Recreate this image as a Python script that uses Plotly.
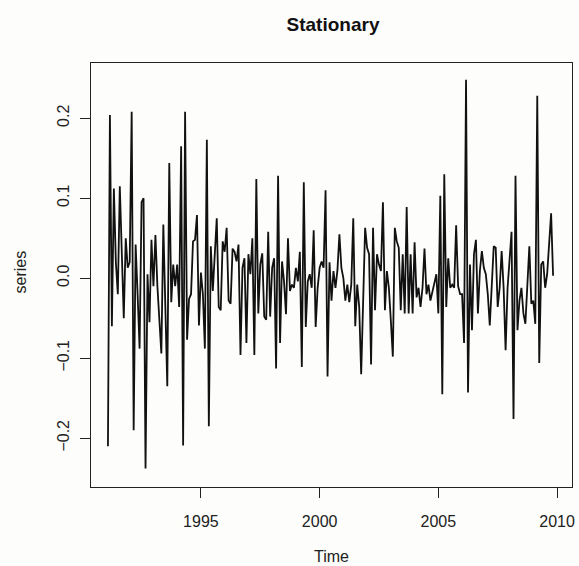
import plotly.graph_objects as go

# monthly series, Feb 1991 onwards
start_year = 1991 + 1 / 12

values_1991_1995 = [
    -0.21, 0.204, -0.06, 0.112, 0.02, -0.02, 0.115, 0.03, -0.05, 0.05,
    0.013, 0.02, 0.208, -0.19, 0.042, -0.02, -0.088, 0.095, 0.1, -0.238,
    0.005, -0.055, 0.048, -0.01, 0.054, -0.01, -0.05, -0.094, 0.067, -0.03,
    -0.135, 0.144, -0.03, 0.017, -0.01, 0.017, -0.036, 0.165, -0.209, 0.208,
    -0.077, -0.026, -0.02, 0.046, 0.048, 0.079, -0.059, 0.007, -0.02, -0.088,
    0.173, -0.185,
]
values_1995_2000 = [
    0.04, -0.016, 0.037, 0.075, -0.036, -0.04, 0.046, 0.033, 0.063, -0.028,
    -0.032, 0.037, 0.033, 0.021, 0.042, -0.096, 0.013, 0.025, -0.081, 0.03,
    0.005, 0.05, -0.096, 0.124, -0.044, 0.017, 0.031, -0.048, -0.052, 0.058,
    -0.048, 0.013, 0.025, -0.113, 0.128, -0.081, 0.021, -0.004, -0.045, 0.05,
    -0.016, -0.008, -0.012, 0.013, -0.004, 0.033, -0.111, 0.12, -0.061, -0.004,
    0.005, -0.012, 0.06, -0.061, -0.012, 0.013, 0.021, 0.013, 0.11, -0.123,
]
values_2000_2005 = [
    0.02, -0.028, 0.009, -0.012, 0.01, 0.055, 0.013, 0.0, -0.028, -0.008,
    -0.03, -0.008, 0.075, -0.06, -0.008, -0.036, -0.12, -0.012, 0.063, 0.038,
    0.03, -0.108, 0.063, -0.04, 0.03, 0.017, 0.009, 0.095, -0.04, 0.009,
    -0.012, -0.053, -0.098, 0.063, 0.046, 0.038, -0.04, 0.03, -0.044, 0.089,
    -0.044, 0.03, -0.044, 0.045, -0.024, -0.012, -0.036, -0.012, 0.037, -0.02,
    -0.008, -0.028, -0.016, -0.008, 0.005, -0.044, 0.103, -0.145, 0.13, -0.036,
    0.025, -0.012, -0.008, -0.012, 0.066,
]
values_2005_2010 = [
    -0.01, -0.02, -0.02, -0.081, 0.248, -0.143, 0.017, -0.065, 0.03, 0.048,
    -0.044, 0.009, 0.034, 0.013, 0.005, -0.02, -0.059, -0.012, 0.04, 0.038,
    -0.036, -0.012, 0.034, -0.012, -0.09, -0.012, 0.03, 0.058, -0.176, 0.128,
    -0.065, -0.028, -0.012, -0.044, -0.057, -0.012, 0.04, -0.032, -0.028, -0.057,
    0.228, -0.106, 0.017, 0.021, -0.012, 0.005, 0.037, 0.081, 0.003,
]

series = values_1991_1995 + values_1995_2000 + values_2000_2005 + values_2005_2010
time = [start_year + k / 12 for k in range(len(series))]

year_ticks = [1995, 2000, 2005, 2010]
value_ticks = [-0.2, -0.1, 0.0, 0.1, 0.2]
value_labels = ['\u22120.2', '\u22120.1', '0.0', '0.1', '0.2']

fig = go.Figure()

fig.add_trace(go.Scatter(
    x=time,
    y=series,
    mode='lines',
    line=dict(color='#111111', width=1.8),
    showlegend=False
))

font = 'Liberation Sans, Arial, sans-serif'

fig.update_layout(
    width=579,
    height=566,
    margin=dict(l=91, r=4, t=63, b=79),
    paper_bgcolor='#fdfdfb',
    plot_bgcolor='#fdfdfb',
    font=dict(family=font, size=16, color='#222222'),
    title=dict(
        text='<b>Stationary</b>',
        x=(91 + 575) / 2 / 579,
        xanchor='center',
        y=1 - 24 / 566,
        yanchor='middle',
        font=dict(size=19, color='#111111')
    ),
    xaxis=dict(
        range=[1990.37, 2010.63],
        tickvals=year_ticks,
        ticks='outside',
        ticklen=10,
        ticklabelstandoff=10,
        tickcolor='#222222',
        showgrid=False,
        zeroline=False,
        showline=True,
        linecolor='#222222',
        linewidth=1,
        mirror=True
    ),
    yaxis=dict(
        range=[-0.261, 0.269],
        tickvals=value_ticks,
        ticktext=value_labels,
        tickangle=-90,
        ticks='outside',
        ticklen=10,
        ticklabelstandoff=5,
        tickcolor='#222222',
        showgrid=False,
        zeroline=False,
        showline=True,
        linecolor='#222222',
        linewidth=1,
        mirror=True
    ),
    annotations=[
        dict(text='Time', xref='paper', yref='paper', x=0.5, y=-69 / 424,
             xanchor='center', yanchor='middle', showarrow=False,
             font=dict(size=16, color='#222222')),
        dict(text='series', xref='paper', yref='paper', x=-71 / 484, y=(487 - 272) / 424,
             xanchor='center', yanchor='middle', textangle=-90, showarrow=False,
             font=dict(size=16, color='#222222')),
    ]
)

# page body has a default 8px margin; drop it so the figure sits at the top-left
fig.write_html("out.html", config={'displayModeBar': False},
               post_script="document.body.style.margin='0';")
